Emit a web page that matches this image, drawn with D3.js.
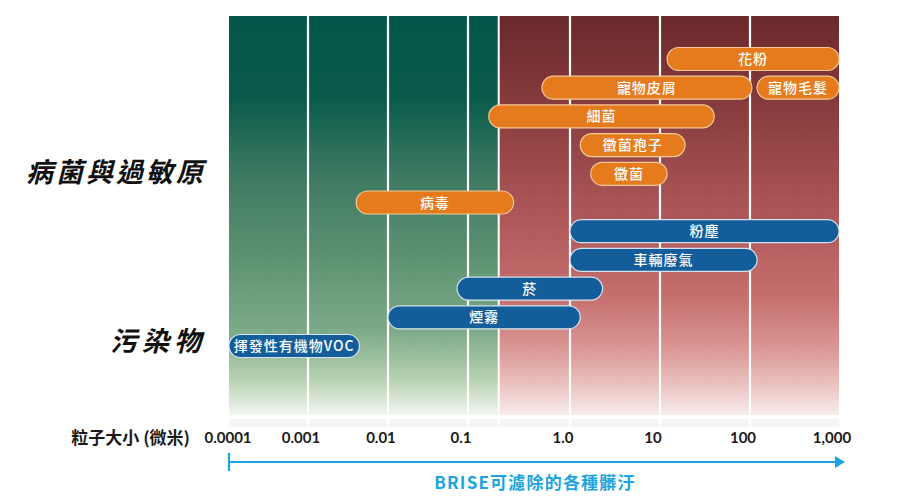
<!DOCTYPE html>
<html><head><meta charset="utf-8">
<script src="https://cdn.jsdelivr.net/npm/d3@7"></script>
<style>
html,body{margin:0;padding:0;background:#fff;}
svg{display:block;font-family:"Noto Sans CJK TC","Noto Sans",sans-serif;}
</style></head>
<body><svg id="chart" width="900" height="500"></svg>
<script>
// ---- data ----
const tickValues = [0.0001, 0.001, 0.01, 0.1, 1, 10, 100, 1000];
const tickLabels = ["0.0001", "0.001", "0.01", "0.1", "1.0", "10", "100", "1,000"];
const boundaryValue = 0.2; // green / red split (µm)
const names  = ["花粉", "寵物皮屑", "寵物毛髮", "細菌", "黴菌孢子", "黴菌", "病毒", "粉塵", "車輛廢氣", "菸", "煙霧", "揮發性有機物VOC"];
const rowIdx = [0, 1, 1, 2, 3, 4, 5, 6, 7, 8, 9, 10];
const lows   = [12, 0.53, 120, 0.16, 1.3, 1.7, 0.004, 1, 1, 0.073, 0.01, 0.0001];
const highs  = [1000, 105, 1000, 40, 19, 12, 0.28, 1000, 120, 2.3, 1.3, 0.0044];
const groups = ["allergen", "allergen", "allergen", "allergen", "allergen", "allergen", "allergen", "pollutant", "pollutant", "pollutant", "pollutant", "pollutant"];
const groupLabels = ["病菌與過敏原", "污染物"];
const groupRows = [4, 9.9];
const axisTitle = "粒子大小 (微米)";
const footer = "BRISE可濾除的各種髒汙";

// ---- layout ----
const svg = d3.select("#chart");
const plotTop = 16, plotBottom = 415;
const x = d3.scaleLog()
  .domain(tickValues)
  .range([229, 308, 388, 468, 570, 660, 750, 839]);
const y = d3.scalePoint().domain(d3.range(11)).range([59, 346]);
const barH = 23;

const defs = svg.append("defs");
function grad(id, stops) {
  const g = defs.append("linearGradient").attr("id", id)
    .attr("x1", 0).attr("y1", 0).attr("x2", 0).attr("y2", 1);
  stops.forEach(s => g.append("stop").attr("offset", s[0]).attr("stop-color", s[1]));
}
grad("gGreen", [[0, "#03574a"], [0.2, "#0a5a4b"], [0.41, "#3f7a62"], [0.6, "#5b9170"], [0.79, "#7caa88"], [0.91, "#b6d1b1"], [1, "#f3f7f1"]]);
grad("gRed", [[0, "#6a292c"], [0.21, "#853a3b"], [0.51, "#af5759"], [0.7, "#c46e6c"], [0.83, "#d99593"], [0.93, "#ebc5c2"], [1, "#f8eeec"]]);
grad("gGridFade", [[0, "#000000"], [0.3, "#ffffff"], [1, "#ffffff"]]);

// grid pattern
const pat = defs.append("pattern").attr("id", "grid").attr("width", 11).attr("height", 11)
  .attr("patternUnits", "userSpaceOnUse");
pat.append("path").attr("d", "M11 0 V11 M0 11 H11").attr("stroke", "#ffffff")
  .attr("stroke-width", 1).attr("fill", "none").attr("opacity", 0.05);
const mask = defs.append("mask").attr("id", "gridMask");
mask.append("rect").attr("x", 0).attr("y", 100).attr("width", 900).attr("height", 320).attr("fill", "url(#gGridFade)");

const xl = x(tickValues[0]), xr = x(tickValues[tickValues.length - 1]), xb = x(boundaryValue);
svg.append("rect").attr("x", xl).attr("y", plotTop).attr("width", xb - xl).attr("height", plotBottom - plotTop).attr("fill", "url(#gGreen)");
svg.append("rect").attr("x", xb).attr("y", plotTop).attr("width", xr - xb).attr("height", plotBottom - plotTop).attr("fill", "url(#gRed)");
svg.append("rect").attr("x", xl).attr("y", 100).attr("width", xr - xl).attr("height", plotBottom - 100)
  .attr("fill", "url(#grid)").attr("mask", "url(#gridMask)");

// faint reflection strip
svg.append("rect").attr("x", xl).attr("y", 419).attr("width", xr - xl).attr("height", 8)
  .attr("fill", "#f2f2f0").attr("opacity", 0.8);

// vertical separators
const sepVals = tickValues.slice(1, -1).concat([boundaryValue]);
svg.selectAll("line.sep").data(sepVals).join("line")
  .attr("x1", d => x(d)).attr("x2", d => x(d))
  .attr("y1", plotTop).attr("y2", plotBottom + 12)
  .attr("stroke", "#ffffff").attr("stroke-width", d => d === boundaryValue ? 2 : 2.2);

// bars
const bars = d3.range(names.length).map(i => ({
  name: names[i], row: rowIdx[i], lo: lows[i], hi: highs[i], g: groups[i]
}));
const bg = svg.append("g");
bg.selectAll("rect").data(bars).join("rect")
  .attr("x", d => x(d.lo)).attr("y", d => y(d.row) - barH / 2)
  .attr("width", d => x(d.hi) - x(d.lo)).attr("height", barH)
  .attr("rx", barH / 2).attr("ry", barH / 2)
  .attr("fill", d => d.g === "allergen" ? "#e57b1d" : "#135e9a")
  .attr("stroke", d => d.g === "allergen" ? "#f5c99a" : "#d3e2ee")
  .attr("stroke-width", 1.2);
bg.selectAll("text").data(bars).join("text")
  .attr("x", d => (x(d.lo) + x(d.hi)) / 2).attr("y", d => y(d.row) + 5)
  .attr("text-anchor", "middle").attr("fill", "#ffffff")
  .attr("font-size", 14).attr("font-weight", 500).attr("letter-spacing", 1)
  .text(d => d.name);

// group labels
svg.selectAll("text.grp").data(groupLabels).join("text")
  .attr("class", "grp")
  .attr("x", 206).attr("y", (d, i) => y(0) + groupRows[i] * (y(1) - y(0)) + 8)
  .attr("text-anchor", "end").attr("fill", "#111")
  .attr("font-size", 27).attr("font-weight", 700).attr("font-style", "italic")
  .attr("letter-spacing", (d, i) => i === 0 ? 3 : 5)
  .text(d => d);

// axis labels
svg.append("text").attr("x", 190).attr("y", 444).attr("text-anchor", "end")
  .attr("fill", "#1a1a1a").attr("font-size", 17).attr("font-weight", 700).text(axisTitle);
svg.selectAll("text.tick").data(tickValues).join("text")
  .attr("class", "tick")
  .attr("x", (d, i) => x(d) + (i === 0 ? -1 : -7)).attr("y", 443)
  .attr("text-anchor", "middle").attr("fill", "#1a1a1a")
  .attr("font-family", "Lato, 'Noto Sans', sans-serif")
  .attr("font-size", 15).attr("font-weight", 700)
  .text((d, i) => tickLabels[i]);

// arrow
const blue = "#1ba4dd";
svg.append("line").attr("x1", xl).attr("x2", xr - 2).attr("y1", 462).attr("y2", 462)
  .attr("stroke", blue).attr("stroke-width", 2.2);
svg.append("line").attr("x1", xl).attr("x2", xl).attr("y1", 453).attr("y2", 471)
  .attr("stroke", blue).attr("stroke-width", 2.2);
svg.append("path").attr("d", `M${xr - 4},456 L${xr + 6},462 L${xr - 4},468 Z`).attr("fill", blue);
svg.append("text").attr("x", 535).attr("y", 489).attr("text-anchor", "middle")
  .attr("fill", blue).attr("font-size", 17).attr("font-weight", 700).attr("letter-spacing", 1.2)
  .text(footer);
</script></body></html>
